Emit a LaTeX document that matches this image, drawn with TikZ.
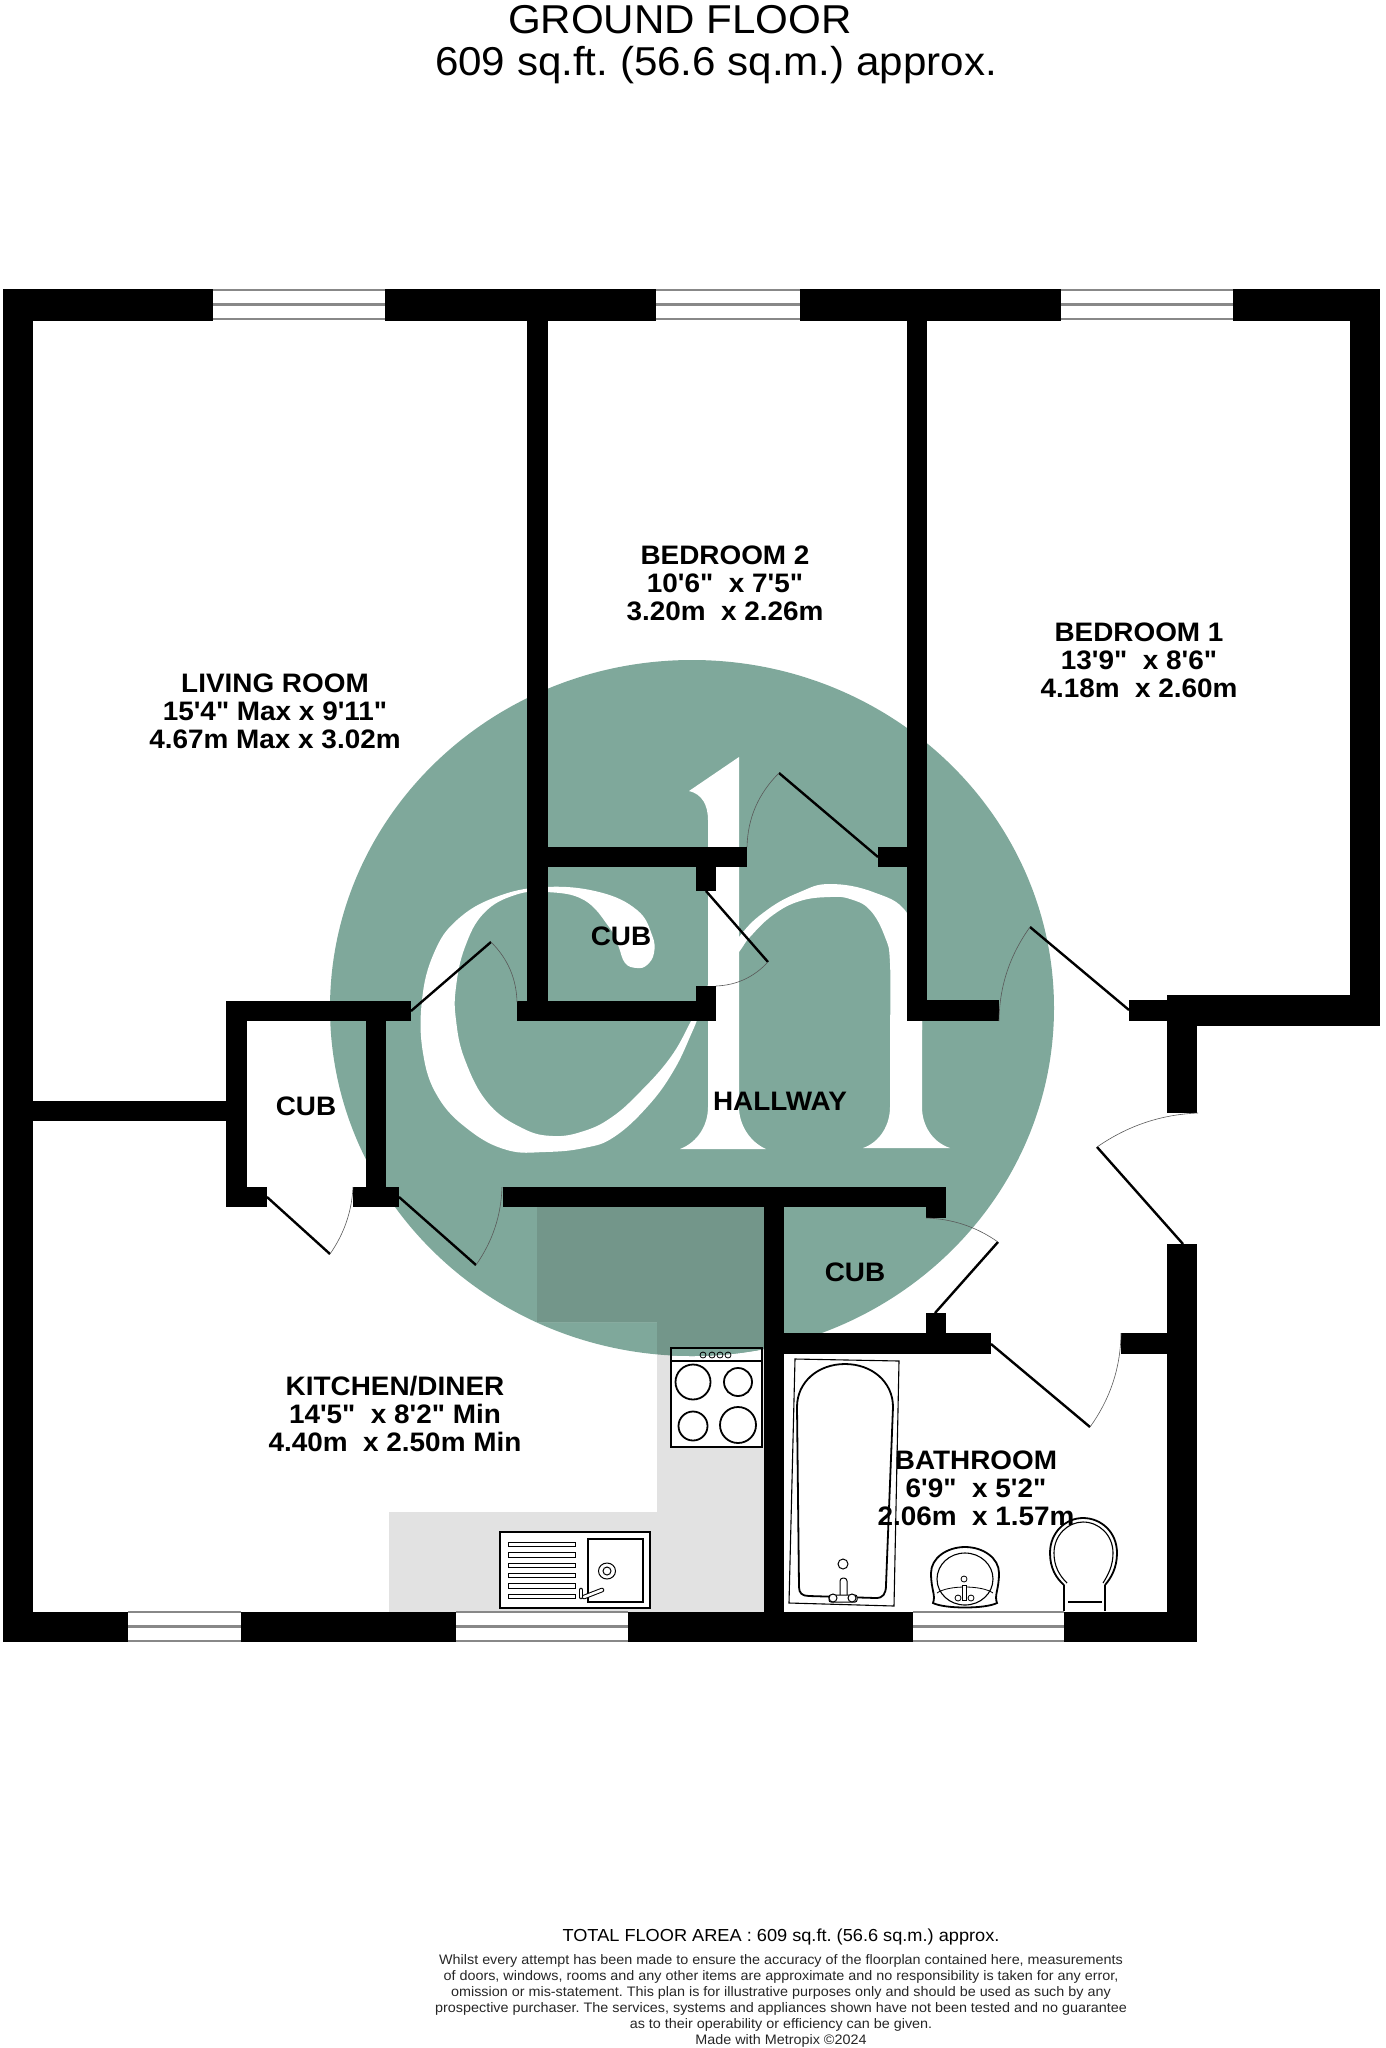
\documentclass[tikz,border=0pt]{standalone}
\usepackage{fontspec}
\newfontfamily\planfont{Liberation Sans}[FakeStretch=1.045]
\usetikzlibrary{calc}
\definecolor{logogreen}{HTML}{7FA89B}
\definecolor{counterdark}{HTML}{73968A}
\definecolor{countergrey}{HTML}{E2E2E2}
\definecolor{wingrey}{HTML}{888888}
\def\counterpath{(537,1207) -- (764,1207) -- (764,1612) -- (389,1612) -- (389,1512) -- (657,1512) -- (657,1322) -- (537,1322) -- cycle}
\def\logooval{(692,1008) ellipse [x radius=362,y radius=348]}

\begin{document}
\frenchspacing
\begin{tikzpicture}[x=1pt,y=-1pt,
  wall/.style={fill=black},
  leaf/.style={line width=2.4pt},
  swing/.style={line width=.6pt,draw=black!65},
  fixthin/.style={line width=1.1pt},
  fixbold/.style={line width=1.8pt},
  room/.style={font=\planfont\bfseries\fontsize{26.7}{28}\selectfont,align=center,inner sep=0pt},
  heading/.style={font=\planfont\fontsize{40.3}{44}\selectfont,inner sep=0pt,anchor=base},
  small/.style={font=\planfont\fontsize{17.4}{22}\selectfont,inner sep=0pt,anchor=base},
  notes/.style={font=\planfont\fontsize{13.75}{16}\selectfont,inner sep=0pt,align=center,text=black!85}]
\useasboundingbox (0,0) rectangle (1385,2048);

% logo behind the plan
\fill[logogreen] \logooval;
\fill[white] plot[smooth,tension=.7] coordinates {(890,1030) (890,963) (885,937) (870,910) (850,899) (830,897) (800,901) (773,915) (750,937) (739,952) (708,995) (693,1030) (674,1070) (648,1106) (614,1137) (584,1148) (545,1152) (507,1150) (469,1130) (438,1097) (423,1053) (422,1000) (434,953) (457,920) (496,897) (545,887) (599,892) (637,910) (652,935) (654,953) (647,965) (637,968) (625,963) (618,945) (609,927) (584,900) (547,892) (515,895) (484,913) (465,947) (456,987) (456,1020) (465,1060) (488,1103) (522,1128) (553,1136) (584,1131) (612,1117) (640,1092) (670,1058) (690,1023) (708,985) (739,937) (767,910) (800,892) (830,884) (873,892) (907,913) (920,960) (922,1030)} -- cycle;
\fill[white] (739,757) -- (689,791) .. controls (702,794) and (708,805) .. (708,820) -- (708,1107) .. controls (708,1125) and (698,1142) .. (680,1149) -- (766,1149) .. controls (750,1142) and (739,1125) .. (739,1107) -- cycle;
\fill[white] (890,1020) -- (922,1020) -- (922,1107) .. controls (922,1125) and (932,1142) .. (950,1148) -- (863,1148) .. controls (880,1142) and (890,1125) .. (890,1107) -- cycle;

% kitchen worktop
\fill[countergrey] \counterpath;
\fill[white] (671,1348) rectangle (762,1447);
\begin{scope}
\clip \logooval;
\fill[counterdark] \counterpath;
\fill[logogreen] (671,1348) rectangle (762,1361);
\end{scope}

% walls
\foreach \xa/\ya/\xb/\yb in {3/289/213/321,385/289/656/321,800/289/1061/321,1233/289/1380/321,
  3/289/33/1642,1350/289/1380/1026,1167/995/1380/1026,1129/1000/1167/1021,
  1167/995/1197/1113,1167/1244/1197/1642,1121/1333/1167/1354,
  3/1612/128/1642,241/1612/456/1642,628/1612/913/1642,1064/1612/1197/1642,
  527/321/548/1021,907/321/927/1021,527/847/747/867,878/847/907/867,
  696/867/716/891,696/986/716/1021,517/1001/716/1021,907/1000/999/1021,
  226/1001/411/1021,226/1001/247/1207,226/1187/267/1207,366/1021/386/1187,353/1187/399/1207,33/1101/226/1121,
  503/1187/946/1207,926/1207/946/1218,764/1207/784/1642,784/1333/991/1354,926/1313/946/1333}
\fill[wall] (\xa,\ya) rectangle (\xb,\yb);

% windows
\foreach \xa/\xb/\ya in {213/385/290,656/800/290,1061/1233/290,128/241/1612,456/628/1612,913/1064/1612}
{
\fill[white] (\xa,\ya) rectangle (\xb,\ya+30);
\foreach \dy in {0,14.5,29}
\draw[wingrey,line width=2.2pt] (\xa,\ya+\dy) -- (\xb,\ya+\dy);
}

% doors: hinge, tip of the leaf, end of the swing
\foreach \hx/\hy/\tx/\ty/\jx/\jy in {1129/1010/1030/927/999/1021,1183/1244/1097/1147/1198/1113,
  935/1313/998/1242/926/1218,991/1344/1090/1427/1121/1333,878/857/779/773/747/847,
  706/891/768/962/716/986,411/1011/491/942/517/1002,267/1197/330/1254/353/1187,399/1197/476/1265/502/1187}
{
\draw[leaf] (\hx,\hy) -- (\tx,\ty);
\coordinate (apex) at ($(\hx,\hy)!1.13!($(\tx,\ty)!.5!(\jx,\jy)$)$);
\draw[swing] (\tx,\ty) .. controls ($(\tx,\ty)!.67!(apex)$) and ($(\jx,\jy)!.67!(apex)$) .. (\jx,\jy);
}

% hob
\draw[line width=2pt] (671,1348) rectangle (762,1447);
\draw[fixthin] (671,1361) -- (762,1361);
\foreach \x in {703,712,720,728}
\draw[line width=.8pt] (\x,1355) circle (3);
\foreach \x/\y/\r in {693/1382/17.5,738/1382/14,693/1426/14.5,738/1425/18}
\draw[fixbold] (\x,\y) circle (\r);

% sink
\fill[white,draw=black,line width=2pt] (500,1532) rectangle (650,1608);
\foreach \y in {1542,1552.5,1563,1573,1583.5,1594}
\draw[line width=1pt] (508,\y) rectangle (575,\y+4.5);
\draw[fixthin] (588,1539) rectangle (643,1602);
\draw[line width=1pt] (607,1571) ellipse [x radius=8.5,y radius=8];
\draw[line width=1pt] (607,1571) circle (4);
\draw[line width=4.6pt,line cap=round] (584,1597) -- (602,1590);
\draw[line width=4.6pt,line cap=round] (581,1590) -- (581,1597);
\draw[white,line width=2.6pt,line cap=round] (584,1597) -- (602,1590);
\draw[white,line width=2.6pt,line cap=round] (581,1590) -- (581,1597);

% bath
\draw[fixthin] (795,1359) -- (899,1361) -- (894,1606) -- (789,1603) -- cycle;
\draw[fixbold] (799,1587) -- (797,1407) .. controls (797,1382) and (818,1364) .. (845,1364) .. controls (872,1364) and (893,1382) .. (893,1407) -- (886,1585) .. controls (886,1594) and (883,1598) .. (876,1598) -- (809,1596) .. controls (802,1596) and (799,1593) .. (799,1587) -- cycle;
\draw[line width=1pt] (843,1564) circle (5);
\filldraw[fill=white,line width=1pt,rounded corners=3pt] (840,1578) rectangle (847,1600);
\filldraw[fill=white,line width=1pt,rounded corners=2pt] (829,1595) rectangle (857,1602);
\foreach \x in {833,852}
\filldraw[fill=white,line width=1pt] (\x,1598) circle (4);

% basin
\draw[fixbold] (933,1603) .. controls (936,1595) and (931,1590) .. (931,1573) .. controls (931,1558) and (947,1547) .. (965,1547) .. controls (983,1547) and (999,1558) .. (999,1573) .. controls (999,1590) and (994,1595) .. (997,1603) .. controls (985,1609) and (945,1609) .. (933,1603) -- cycle;
\draw[fixthin] (965,1579) ellipse [x radius=28,y radius=26];
\draw[line width=.8pt] (937,1593) .. controls (948,1585) and (982,1585) .. (993,1593);
\draw[line width=.8pt] (964,1579) circle (3);
\filldraw[fill=white,line width=.8pt] (962,1585) rectangle (966,1600);
\foreach \x in {958,971}
\filldraw[fill=white,line width=.8pt] (\x,1598) circle (3);

% toilet
\draw[fixbold] (1064,1585) .. controls (1056,1578) and (1050,1568) .. (1050,1553) .. controls (1050,1532) and (1066,1518) .. (1083,1518) .. controls (1101,1518) and (1117,1532) .. (1117,1553) .. controls (1117,1568) and (1111,1578) .. (1105,1585);
\draw[fixthin] (1067,1583) .. controls (1059,1575) and (1054,1566) .. (1054,1553) .. controls (1054,1535) and (1068,1522) .. (1083,1522) .. controls (1099,1522) and (1113,1535) .. (1113,1553) .. controls (1113,1566) and (1108,1575) .. (1103,1583);
\draw[fixbold] (1064,1611) -- (1064,1585);
\draw[fixbold] (1105,1611) -- (1105,1585);
\draw[fixthin] (1068,1602) -- (1102,1602);

% labels
\node[heading] (floor) at (680,33) {GROUND FLOOR};
\node[heading] (area) at (716,75) {609 sq.ft. (56.6 sq.m.) approx.};
\node[room] (living) at (275,711) {LIVING ROOM\\15'4" Max x 9'11"\\4.67m Max x 3.02m};
\node[room] (bedtwo) at (725,583) {BEDROOM 2\\10'6"\ \ x 7'5"\\3.20m\ \ x 2.26m};
\node[room] (bedone) at (1139,660) {BEDROOM 1\\13'9"\ \ x 8'6"\\4.18m\ \ x 2.60m};
\node[room] (kitchen) at (395,1414) {KITCHEN/DINER\\14'5"\ \ x 8'2" Min\\4.40m\ \ x 2.50m Min};
\node[room] (bath) at (976,1488) {BATHROOM\\6'9"\ \ x 5'2"\\2.06m\ \ x 1.57m};
\node[room] (cubleft) at (306,1106) {CUB};
\node[room] (cubmid) at (621,936) {CUB};
\node[room] (cubhall) at (855,1272) {CUB};
\node[room] (hall) at (780,1101) {HALLWAY};
\node[small] (total) at (781,1941) {TOTAL FLOOR AREA : 609 sq.ft. (56.6 sq.m.) approx.};
\node[notes] (terms) at (781,2001) {Whilst every attempt has been made to ensure the accuracy of the floorplan contained here, measurements\\of doors, windows, rooms and any other items are approximate and no responsibility is taken for any error,\\omission or mis-statement. This plan is for illustrative purposes only and should be used as such by any\\prospective purchaser. The services, systems and appliances shown have not been tested and no guarantee\\as to their operability or efficiency can be given.\\Made with Metropix \textcopyright 2024};
\end{tikzpicture}
\end{document}
